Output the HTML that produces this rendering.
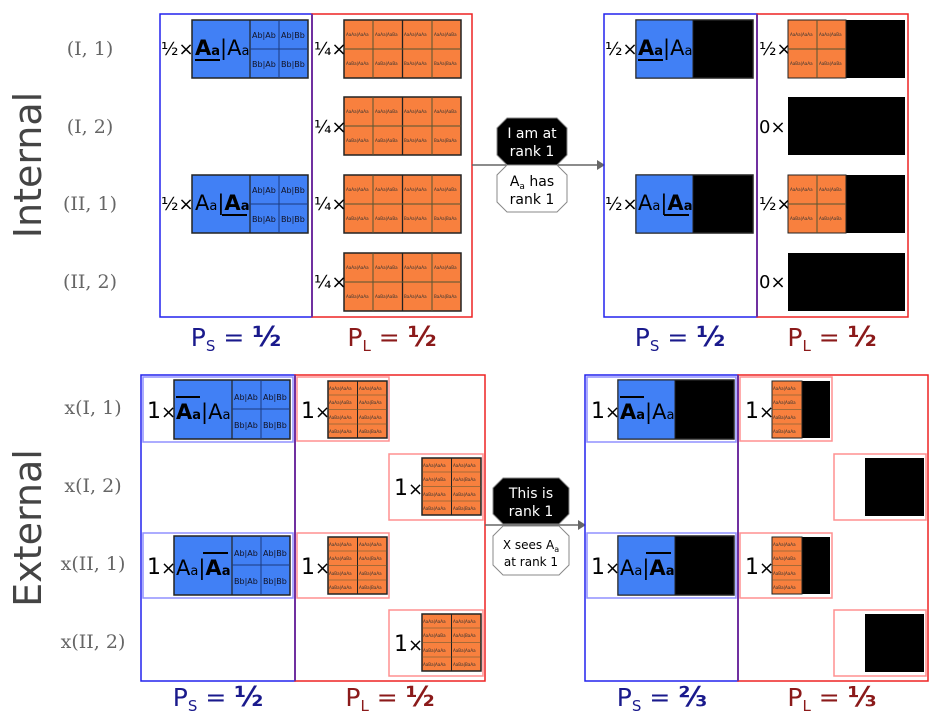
<!DOCTYPE html>
<html><head><meta charset="utf-8"><style>
body{margin:0;background:#fff}
svg{display:block;font-family:"DejaVu Sans","Liberation Sans",sans-serif}
.rl{font-size:19px;fill:#666}
.mul{font-size:18px;fill:#000}
.t{font-size:4.1px;fill:#333}
.s{font-size:8px;fill:#112}
</style></head><body>
<svg width="937" height="721" viewBox="0 0 937 721" xmlns="http://www.w3.org/2000/svg">
<text transform="translate(41,165) rotate(-90)" text-anchor="middle" font-size="38" fill="#444">Internal</text>
<text transform="translate(41,528) rotate(-90)" text-anchor="middle" font-size="38" fill="#444">External</text>
<g class="rl" text-anchor="middle" font-family="'DejaVu Serif','Liberation Serif',serif">
<text x="90" y="55">(I, 1)</text><text x="90" y="133">(I, 2)</text>
<text x="90" y="210">(II, 1)</text><text x="90" y="288">(II, 2)</text>
<text x="93" y="414">x(I, 1)</text><text x="93" y="492">x(I, 2)</text>
<text x="93" y="570">x(II, 1)</text><text x="93" y="648">x(II, 2)</text>
</g>

<!-- ===== TOP LEFT ===== -->
<rect x="160" y="14" width="152" height="303" fill="none" stroke="#2222ee" stroke-width="1.5"/>
<rect x="312" y="14" width="160" height="303" fill="none" stroke="#ee2222" stroke-width="1.5"/>
<line x1="312" y1="14" x2="312" y2="317" stroke="#7030a0" stroke-width="2"/>

<text class="mul" x="161" y="55">½×</text>
<g transform="translate(192,20)">
<rect width="116" height="58" fill="#4180f5" stroke="#222" stroke-width="1.5"/>
<line x1="58" y1="0" x2="58" y2="58" stroke="#222" stroke-width="1.2"/>
<line x1="87" y1="0" x2="87" y2="58" stroke="#1a3a80"/><line x1="58" y1="29" x2="116" y2="29" stroke="#1a3a80"/>
<text x="3" y="35" font-size="21"><tspan font-weight="bold">A</tspan><tspan font-weight="bold" font-size="13">a</tspan><tspan>|A</tspan><tspan font-size="13">a</tspan></text>
<line x1="3" y1="40" x2="28" y2="40" stroke="#000" stroke-width="2"/>
<text class="s" x="60" y="18">Ab|Ab</text><text class="s" x="89" y="18">Ab|Bb</text>
<text class="s" x="60" y="47">Bb|Ab</text><text class="s" x="89" y="47">Bb|Bb</text>
</g>
<text class="mul" x="161" y="210">½×</text>
<g transform="translate(192,175)">
<rect width="116" height="58" fill="#4180f5" stroke="#222" stroke-width="1.5"/>
<line x1="58" y1="0" x2="58" y2="58" stroke="#222" stroke-width="1.2"/>
<line x1="87" y1="0" x2="87" y2="58" stroke="#1a3a80"/><line x1="58" y1="29" x2="116" y2="29" stroke="#1a3a80"/>
<text x="3" y="35" font-size="21"><tspan>A</tspan><tspan font-size="13">a</tspan><tspan>|</tspan><tspan font-weight="bold">A</tspan><tspan font-weight="bold" font-size="13">a</tspan></text>
<line x1="30" y1="40" x2="55" y2="40" stroke="#000" stroke-width="2"/>
<text class="s" x="60" y="18">Ab|Ab</text><text class="s" x="89" y="18">Ab|Bb</text>
<text class="s" x="60" y="47">Bb|Ab</text><text class="s" x="89" y="47">Bb|Bb</text>
</g>

<g transform="translate(344,20)">
<rect width="117" height="58" fill="#f8803e" stroke="#222" stroke-width="1.5"/>
<line x1="29" y1="0" x2="29" y2="58" stroke="#553"/><line x1="58.5" y1="0" x2="58.5" y2="58" stroke="#222" stroke-width="1.3"/><line x1="88" y1="0" x2="88" y2="58" stroke="#553"/><line x1="0" y1="29" x2="117" y2="29" stroke="#553"/>
<text class="t" x="2" y="16">AaAa|AaAa</text><text class="t" x="31" y="16">AaAa|AaBa</text><text class="t" x="60" y="16">AaAa|AaAa</text><text class="t" x="90" y="16">AaAa|AaBa</text>
<text class="t" x="2" y="45">AaBa|AaAa</text><text class="t" x="31" y="45">AaBa|AaBa</text><text class="t" x="60" y="45">BaAa|AaAa</text><text class="t" x="90" y="45">BaAa|BaAa</text>
</g>
<g transform="translate(344,97)">
<rect width="117" height="58" fill="#f8803e" stroke="#222" stroke-width="1.5"/>
<line x1="29" y1="0" x2="29" y2="58" stroke="#553"/><line x1="58.5" y1="0" x2="58.5" y2="58" stroke="#222" stroke-width="1.3"/><line x1="88" y1="0" x2="88" y2="58" stroke="#553"/><line x1="0" y1="29" x2="117" y2="29" stroke="#553"/>
<text class="t" x="2" y="16">AaAa|AaAa</text><text class="t" x="31" y="16">AaAa|AaBa</text><text class="t" x="60" y="16">AaAa|AaAa</text><text class="t" x="90" y="16">AaAa|AaBa</text>
<text class="t" x="2" y="45">AaBa|AaAa</text><text class="t" x="31" y="45">AaBa|AaBa</text><text class="t" x="60" y="45">BaAa|AaAa</text><text class="t" x="90" y="45">BaAa|BaAa</text>
</g>
<g transform="translate(344,175)">
<rect width="117" height="58" fill="#f8803e" stroke="#222" stroke-width="1.5"/>
<line x1="29" y1="0" x2="29" y2="58" stroke="#553"/><line x1="58.5" y1="0" x2="58.5" y2="58" stroke="#222" stroke-width="1.3"/><line x1="88" y1="0" x2="88" y2="58" stroke="#553"/><line x1="0" y1="29" x2="117" y2="29" stroke="#553"/>
<text class="t" x="2" y="16">AaAa|AaAa</text><text class="t" x="31" y="16">AaAa|AaBa</text><text class="t" x="60" y="16">AaAa|AaAa</text><text class="t" x="90" y="16">AaAa|AaBa</text>
<text class="t" x="2" y="45">AaBa|AaAa</text><text class="t" x="31" y="45">AaBa|AaBa</text><text class="t" x="60" y="45">BaAa|AaAa</text><text class="t" x="90" y="45">BaAa|BaAa</text>
</g>
<g transform="translate(344,253)">
<rect width="117" height="58" fill="#f8803e" stroke="#222" stroke-width="1.5"/>
<line x1="29" y1="0" x2="29" y2="58" stroke="#553"/><line x1="58.5" y1="0" x2="58.5" y2="58" stroke="#222" stroke-width="1.3"/><line x1="88" y1="0" x2="88" y2="58" stroke="#553"/><line x1="0" y1="29" x2="117" y2="29" stroke="#553"/>
<text class="t" x="2" y="16">AaAa|AaAa</text><text class="t" x="31" y="16">AaAa|AaBa</text><text class="t" x="60" y="16">AaAa|AaAa</text><text class="t" x="90" y="16">AaAa|AaBa</text>
<text class="t" x="2" y="45">AaBa|AaAa</text><text class="t" x="31" y="45">AaBa|AaBa</text><text class="t" x="60" y="45">BaAa|AaAa</text><text class="t" x="90" y="45">BaAa|BaAa</text>
</g>
<g class="mul"><text x="314" y="55">¼×</text><text x="314" y="133">¼×</text><text x="314" y="210">¼×</text><text x="314" y="288">¼×</text></g>

<text x="236" y="346" text-anchor="middle" font-size="25" fill="#1a1a8c">P<tspan font-size="15" dy="5">S</tspan><tspan dy="-5"> = </tspan><tspan font-weight="bold" font-size="28">½</tspan></text>
<text x="392" y="346" text-anchor="middle" font-size="25" fill="#8b1a1a">P<tspan font-size="15" dy="5">L</tspan><tspan dy="-5"> = </tspan><tspan font-weight="bold" font-size="28">½</tspan></text>

<line x1="472" y1="165" x2="597" y2="165" stroke="#666" stroke-width="1.5"/>
<polygon points="597,160 605,165 597,170" fill="#666"/>
<polygon points="507,118 557,118 567,128 567,155 557,165 507,165 497,155 497,128" fill="#000" stroke="#888"/>
<polygon points="507,165 557,165 567,175 567,202 557,212 507,212 497,202 497,175" fill="#fff" stroke="#888"/>
<text x="532" y="138" text-anchor="middle" font-size="14" fill="#fff">I am at</text>
<text x="532" y="156" text-anchor="middle" font-size="14" fill="#fff">rank 1</text>
<text x="532" y="186" text-anchor="middle" font-size="14">A<tspan font-size="9" dy="3">a</tspan><tspan dy="-3"> has</tspan></text>
<text x="532" y="204" text-anchor="middle" font-size="14">rank 1</text>

<!-- ===== TOP RIGHT ===== -->
<rect x="604" y="14" width="153" height="303" fill="none" stroke="#2222ee" stroke-width="1.5"/>
<rect x="757" y="14" width="151" height="303" fill="none" stroke="#ee2222" stroke-width="1.5"/>
<line x1="757" y1="14" x2="757" y2="317" stroke="#7030a0" stroke-width="2"/>
<text class="mul" x="605" y="55">½×</text><text class="mul" x="605" y="210">½×</text>
<g transform="translate(636,20)">
<rect width="117" height="58" fill="#000" stroke="#222" stroke-width="1.5"/>
<rect width="57" height="58" fill="#4180f5" stroke="#222" stroke-width="1"/>
<text x="2" y="35" font-size="21"><tspan font-weight="bold">A</tspan><tspan font-weight="bold" font-size="13">a</tspan><tspan>|A</tspan><tspan font-size="13">a</tspan></text>
<line x1="2" y1="40" x2="27" y2="40" stroke="#000" stroke-width="2"/>
</g>
<g transform="translate(636,175)">
<rect width="117" height="58" fill="#000" stroke="#222" stroke-width="1.5"/>
<rect width="57" height="58" fill="#4180f5" stroke="#222" stroke-width="1"/>
<text x="2" y="35" font-size="21"><tspan>A</tspan><tspan font-size="13">a</tspan><tspan>|</tspan><tspan font-weight="bold">A</tspan><tspan font-weight="bold" font-size="13">a</tspan></text>
<line x1="28" y1="40" x2="53" y2="40" stroke="#000" stroke-width="2"/>
</g>
<g class="mul"><text x="759" y="55">½×</text><text x="759" y="133">0×</text><text x="759" y="210">½×</text><text x="759" y="288">0×</text></g>
<g transform="translate(788,20)">
<rect width="117" height="58" fill="#000"/>
<rect width="58" height="58" fill="#f8803e" stroke="#222"/>
<line x1="29" y1="0" x2="29" y2="58" stroke="#553"/><line x1="0" y1="29" x2="58" y2="29" stroke="#553"/>
<text class="t" x="2" y="16">AaAa|AaAa</text><text class="t" x="31" y="16">AaAa|AaBa</text><text class="t" x="2" y="45">AaBa|AaAa</text><text class="t" x="31" y="45">AaBa|AaBa</text>
</g>
<rect x="788" y="97" width="117" height="58" fill="#000"/>
<g transform="translate(788,175)">
<rect width="117" height="58" fill="#000"/>
<rect width="58" height="58" fill="#f8803e" stroke="#222"/>
<line x1="29" y1="0" x2="29" y2="58" stroke="#553"/><line x1="0" y1="29" x2="58" y2="29" stroke="#553"/>
<text class="t" x="2" y="16">AaAa|AaAa</text><text class="t" x="31" y="16">AaAa|AaBa</text><text class="t" x="2" y="45">AaBa|AaAa</text><text class="t" x="31" y="45">AaBa|AaBa</text>
</g>
<rect x="788" y="253" width="117" height="58" fill="#000"/>
<text x="680" y="346" text-anchor="middle" font-size="25" fill="#1a1a8c">P<tspan font-size="15" dy="5">S</tspan><tspan dy="-5"> = </tspan><tspan font-weight="bold" font-size="28">½</tspan></text>
<text x="832" y="346" text-anchor="middle" font-size="25" fill="#8b1a1a">P<tspan font-size="15" dy="5">L</tspan><tspan dy="-5"> = </tspan><tspan font-weight="bold" font-size="28">½</tspan></text>

<!-- ===== BOTTOM LEFT ===== -->
<rect x="141" y="375" width="154" height="306" fill="none" stroke="#2222ee" stroke-width="1.5"/>
<rect x="295" y="375" width="190" height="306" fill="none" stroke="#ee2222" stroke-width="1.5"/>
<line x1="295" y1="375" x2="295" y2="681" stroke="#7030a0" stroke-width="2"/>
<rect x="143" y="377" width="150" height="65" fill="none" stroke="#9090ff" stroke-width="1.5"/>
<rect x="143" y="533" width="150" height="65" fill="none" stroke="#9090ff" stroke-width="1.5"/>
<rect x="297" y="377" width="92" height="64" fill="none" stroke="#ff9090" stroke-width="1.5"/>
<rect x="389" y="454" width="94" height="66" fill="none" stroke="#ff9090" stroke-width="1.5"/>
<rect x="297" y="533" width="92" height="65" fill="none" stroke="#ff9090" stroke-width="1.5"/>
<rect x="389" y="610" width="94" height="66" fill="none" stroke="#ff9090" stroke-width="1.5"/>
<g class="mul" font-size="18"><text x="147" y="418"><tspan font-size="22">1</tspan>×</text><text x="147" y="574"><tspan font-size="22">1</tspan>×</text>
<text x="301" y="418"><tspan font-size="22">1</tspan>×</text><text x="394" y="495"><tspan font-size="22">1</tspan>×</text>
<text x="301" y="574"><tspan font-size="22">1</tspan>×</text><text x="394" y="651"><tspan font-size="22">1</tspan>×</text></g>
<g transform="translate(174,380)">
<rect width="116" height="59" fill="#4180f5" stroke="#222" stroke-width="1.5"/>
<line x1="58" y1="0" x2="58" y2="59" stroke="#222" stroke-width="1.2"/>
<line x1="87" y1="0" x2="87" y2="59" stroke="#1a3a80"/><line x1="58" y1="29" x2="116" y2="29" stroke="#1a3a80"/>
<line x1="2" y1="17" x2="26" y2="17" stroke="#000" stroke-width="2"/>
<text x="2" y="39" font-size="21"><tspan font-weight="bold">A</tspan><tspan font-weight="bold" font-size="13">a</tspan><tspan>|A</tspan><tspan font-size="13">a</tspan></text>
<text class="s" x="60" y="20">Ab|Ab</text><text class="s" x="89" y="20">Ab|Bb</text>
<text class="s" x="60" y="48">Bb|Ab</text><text class="s" x="89" y="48">Bb|Bb</text>
</g>
<g transform="translate(174,536)">
<rect width="116" height="59" fill="#4180f5" stroke="#222" stroke-width="1.5"/>
<line x1="58" y1="0" x2="58" y2="59" stroke="#222" stroke-width="1.2"/>
<line x1="87" y1="0" x2="87" y2="59" stroke="#1a3a80"/><line x1="58" y1="29" x2="116" y2="29" stroke="#1a3a80"/>
<line x1="29" y1="17" x2="54" y2="17" stroke="#000" stroke-width="2"/>
<text x="2" y="39" font-size="21"><tspan>A</tspan><tspan font-size="13">a</tspan><tspan>|</tspan><tspan font-weight="bold">A</tspan><tspan font-weight="bold" font-size="13">a</tspan></text>
<text class="s" x="60" y="20">Ab|Ab</text><text class="s" x="89" y="20">Ab|Bb</text>
<text class="s" x="60" y="48">Bb|Ab</text><text class="s" x="89" y="48">Bb|Bb</text>
</g>
<g transform="translate(328,381)">
<rect width="59" height="57" fill="#f8803e" stroke="#222" stroke-width="1.5"/>
<line x1="29.5" y1="0" x2="29.5" y2="57" stroke="#222"/><line x1="0" y1="14" x2="59" y2="14" stroke="#553" stroke-width=".6"/><line x1="0" y1="28.5" x2="59" y2="28.5" stroke="#553" stroke-width=".6"/><line x1="0" y1="43" x2="59" y2="43" stroke="#553" stroke-width=".6"/>
<text class="t" x="1" y="9">AaAa|AaAa</text><text class="t" x="31" y="9">AaAa|AaAa</text><text class="t" x="1" y="23">AaAa|AaBa</text><text class="t" x="31" y="23">AaAa|BaAa</text><text class="t" x="1" y="38">AaBa|AaAa</text><text class="t" x="31" y="38">AaBa|AaAa</text><text class="t" x="1" y="52">AaBa|AaAa</text><text class="t" x="31" y="52">AaBa|BaAa</text>
</g>
<g transform="translate(422,458)">
<rect width="59" height="57" fill="#f8803e" stroke="#222" stroke-width="1.5"/>
<line x1="29.5" y1="0" x2="29.5" y2="57" stroke="#222"/><line x1="0" y1="14" x2="59" y2="14" stroke="#553" stroke-width=".6"/><line x1="0" y1="28.5" x2="59" y2="28.5" stroke="#553" stroke-width=".6"/><line x1="0" y1="43" x2="59" y2="43" stroke="#553" stroke-width=".6"/>
<text class="t" x="1" y="9">AaAa|AaAa</text><text class="t" x="31" y="9">AaAa|AaAa</text><text class="t" x="1" y="23">AaAa|AaBa</text><text class="t" x="31" y="23">AaAa|BaAa</text><text class="t" x="1" y="38">AaBa|AaAa</text><text class="t" x="31" y="38">AaBa|AaAa</text><text class="t" x="1" y="52">AaBa|AaAa</text><text class="t" x="31" y="52">AaBa|BaAa</text>
</g>
<g transform="translate(328,537)">
<rect width="59" height="57" fill="#f8803e" stroke="#222" stroke-width="1.5"/>
<line x1="29.5" y1="0" x2="29.5" y2="57" stroke="#222"/><line x1="0" y1="14" x2="59" y2="14" stroke="#553" stroke-width=".6"/><line x1="0" y1="28.5" x2="59" y2="28.5" stroke="#553" stroke-width=".6"/><line x1="0" y1="43" x2="59" y2="43" stroke="#553" stroke-width=".6"/>
<text class="t" x="1" y="9">AaAa|AaAa</text><text class="t" x="31" y="9">AaAa|AaAa</text><text class="t" x="1" y="23">AaAa|AaBa</text><text class="t" x="31" y="23">AaAa|BaAa</text><text class="t" x="1" y="38">AaBa|AaAa</text><text class="t" x="31" y="38">AaBa|AaAa</text><text class="t" x="1" y="52">AaBa|AaAa</text><text class="t" x="31" y="52">AaBa|BaAa</text>
</g>
<g transform="translate(422,614)">
<rect width="59" height="57" fill="#f8803e" stroke="#222" stroke-width="1.5"/>
<line x1="29.5" y1="0" x2="29.5" y2="57" stroke="#222"/><line x1="0" y1="14" x2="59" y2="14" stroke="#553" stroke-width=".6"/><line x1="0" y1="28.5" x2="59" y2="28.5" stroke="#553" stroke-width=".6"/><line x1="0" y1="43" x2="59" y2="43" stroke="#553" stroke-width=".6"/>
<text class="t" x="1" y="9">AaAa|AaAa</text><text class="t" x="31" y="9">AaAa|AaAa</text><text class="t" x="1" y="23">AaAa|AaBa</text><text class="t" x="31" y="23">AaAa|BaAa</text><text class="t" x="1" y="38">AaBa|AaAa</text><text class="t" x="31" y="38">AaBa|AaAa</text><text class="t" x="1" y="52">AaBa|AaAa</text><text class="t" x="31" y="52">AaBa|BaAa</text>
</g>
<text x="218" y="706" text-anchor="middle" font-size="25" fill="#1a1a8c">P<tspan font-size="15" dy="5">S</tspan><tspan dy="-5"> = </tspan><tspan font-weight="bold" font-size="28">½</tspan></text>
<text x="390" y="706" text-anchor="middle" font-size="25" fill="#8b1a1a">P<tspan font-size="15" dy="5">L</tspan><tspan dy="-5"> = </tspan><tspan font-weight="bold" font-size="28">½</tspan></text>

<line x1="485" y1="525" x2="579" y2="525" stroke="#666" stroke-width="1.5"/>
<polygon points="578,520 586,525 578,530" fill="#666"/>
<polygon points="503,478 559,478 569,488 569,514 559,524 503,524 493,514 493,488" fill="#000" stroke="#888"/>
<polygon points="503,526 559,526 569,536 569,565 559,575 503,575 493,565 493,536" fill="#fff" stroke="#888"/>
<text x="531" y="498" text-anchor="middle" font-size="14" fill="#fff">This is</text>
<text x="531" y="516" text-anchor="middle" font-size="14" fill="#fff">rank 1</text>
<text x="531" y="549" text-anchor="middle" font-size="12">X sees A<tspan font-size="8" dy="3">a</tspan></text>
<text x="531" y="566" text-anchor="middle" font-size="12">at rank 1</text>

<!-- ===== BOTTOM RIGHT ===== -->
<rect x="585" y="375" width="153" height="306" fill="none" stroke="#2222ee" stroke-width="1.5"/>
<rect x="738" y="375" width="190" height="306" fill="none" stroke="#ee2222" stroke-width="1.5"/>
<line x1="738" y1="375" x2="738" y2="681" stroke="#7030a0" stroke-width="2"/>
<rect x="587" y="377" width="149" height="65" fill="none" stroke="#9090ff" stroke-width="1.5"/>
<rect x="587" y="533" width="149" height="65" fill="none" stroke="#9090ff" stroke-width="1.5"/>
<rect x="740" y="377" width="92" height="64" fill="none" stroke="#ff9090" stroke-width="1.5"/>
<rect x="834" y="454" width="92" height="66" fill="none" stroke="#ff9090" stroke-width="1.5"/>
<rect x="740" y="533" width="92" height="65" fill="none" stroke="#ff9090" stroke-width="1.5"/>
<rect x="834" y="610" width="92" height="66" fill="none" stroke="#ff9090" stroke-width="1.5"/>
<g class="mul" font-size="18"><text x="591" y="418"><tspan font-size="22">1</tspan>×</text><text x="591" y="574"><tspan font-size="22">1</tspan>×</text>
<text x="745" y="418"><tspan font-size="22">1</tspan>×</text><text x="745" y="574"><tspan font-size="22">1</tspan>×</text></g>
<g transform="translate(618,380)">
<rect width="116" height="59" fill="#000" stroke="#222" stroke-width="1.5"/>
<rect width="57" height="59" fill="#4180f5" stroke="#222"/>
<line x1="2" y1="17" x2="26" y2="17" stroke="#000" stroke-width="2"/>
<text x="2" y="39" font-size="21"><tspan font-weight="bold">A</tspan><tspan font-weight="bold" font-size="13">a</tspan><tspan>|A</tspan><tspan font-size="13">a</tspan></text>
</g>
<g transform="translate(618,536)">
<rect width="116" height="59" fill="#000" stroke="#222" stroke-width="1.5"/>
<rect width="57" height="59" fill="#4180f5" stroke="#222"/>
<line x1="28" y1="17" x2="53" y2="17" stroke="#000" stroke-width="2"/>
<text x="2" y="39" font-size="21"><tspan>A</tspan><tspan font-size="13">a</tspan><tspan>|</tspan><tspan font-weight="bold">A</tspan><tspan font-weight="bold" font-size="13">a</tspan></text>
</g>
<g transform="translate(772,381)">
<rect width="58" height="57" fill="#000"/>
<rect width="30" height="57" fill="#f8803e" stroke="#222"/>
<line x1="0" y1="14" x2="30" y2="14" stroke="#553" stroke-width=".6"/><line x1="0" y1="28.5" x2="30" y2="28.5" stroke="#553" stroke-width=".6"/><line x1="0" y1="43" x2="30" y2="43" stroke="#553" stroke-width=".6"/>
<text class="t" x="1" y="9">AaAa|AaAa</text><text class="t" x="1" y="23">AaAa|AaBa</text><text class="t" x="1" y="38">AaBa|AaAa</text><text class="t" x="1" y="52">AaBa|AaAa</text>
</g>
<g transform="translate(772,537)">
<rect width="58" height="57" fill="#000"/>
<rect width="30" height="57" fill="#f8803e" stroke="#222"/>
<line x1="0" y1="14" x2="30" y2="14" stroke="#553" stroke-width=".6"/><line x1="0" y1="28.5" x2="30" y2="28.5" stroke="#553" stroke-width=".6"/><line x1="0" y1="43" x2="30" y2="43" stroke="#553" stroke-width=".6"/>
<text class="t" x="1" y="9">AaAa|AaAa</text><text class="t" x="1" y="23">AaAa|AaBa</text><text class="t" x="1" y="38">AaBa|AaAa</text><text class="t" x="1" y="52">AaBa|AaAa</text>
</g>
<rect x="865" y="458" width="59" height="58" fill="#000"/>
<rect x="865" y="614" width="59" height="58" fill="#000"/>
<text x="662" y="706" text-anchor="middle" font-size="25" fill="#1a1a8c">P<tspan font-size="15" dy="5">S</tspan><tspan dy="-5"> = </tspan><tspan font-weight="bold" font-size="28">⅔</tspan></text>
<text x="832" y="706" text-anchor="middle" font-size="25" fill="#8b1a1a">P<tspan font-size="15" dy="5">L</tspan><tspan dy="-5"> = </tspan><tspan font-weight="bold" font-size="28">⅓</tspan></text>
</svg>
</body></html>
